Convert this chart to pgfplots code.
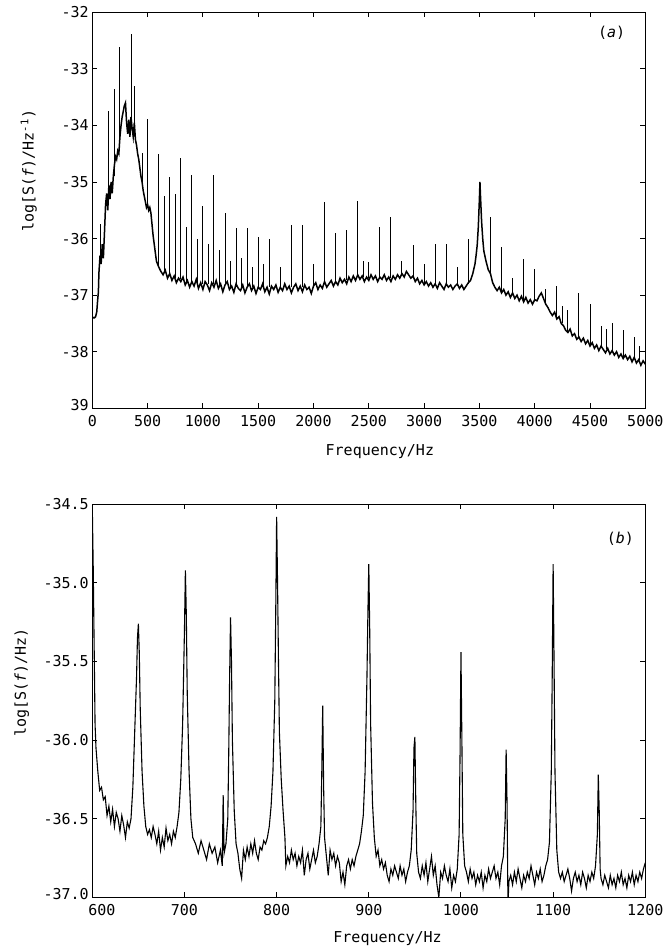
\documentclass[border=0pt]{standalone}
\usepackage{pgfplots}
\pgfplotsset{compat=1.18}
\usepackage{pgfplotstable}
\usepackage{fontspec}
\setmainfont{DejaVu Sans Mono}

% (a) broad-band spectrum, noisy floor
\pgfplotstableread{
f v
0 -37.38
10 -37.40
20 -37.40
30 -37.38
40 -37.30
50 -37.05
55 -36.95
60 -36.60
70 -36.30
80 -36.45
90 -36.10
100 -36.35
110 -35.90
120 -35.40
130 -35.20
140 -35.50
150 -35.05
160 -35.30
170 -35.00
180 -35.20
190 -34.90
200 -34.70
210 -34.55
220 -34.60
230 -34.45
240 -34.50
250 -34.20
260 -34.00
270 -33.85
280 -33.75
290 -33.65
300 -33.60
310 -33.95
320 -34.15
330 -33.90
340 -34.20
350 -33.85
360 -34.05
370 -34.20
380 -33.95
390 -34.25
400 -34.35
410 -34.50
420 -34.60
430 -34.75
440 -34.90
450 -35.00
460 -35.15
470 -35.25
480 -35.35
490 -35.45
500 -35.40
510 -35.50
520 -35.45
530 -35.55
540 -35.75
550 -35.95
560 -36.10
570 -36.25
580 -36.40
590 -36.45
600 -36.50
620 -36.58
640 -36.64
660 -36.56
680 -36.70
700 -36.62
720 -36.74
740 -36.66
760 -36.78
780 -36.70
800 -36.76
820 -36.68
840 -36.82
860 -36.74
880 -36.86
900 -36.76
920 -36.84
940 -36.72
960 -36.88
980 -36.78
1000 -36.90
1020 -36.76
1040 -36.82
1060 -36.92
1080 -36.78
1100 -36.86
1120 -36.74
1140 -36.88
1160 -36.80
1180 -36.94
1200 -36.82
1220 -36.76
1240 -36.90
1260 -36.84
1280 -36.95
1300 -36.80
1320 -36.88
1340 -36.92
1360 -36.82
1380 -36.96
1400 -36.86
1420 -36.80
1440 -36.92
1460 -36.84
1480 -36.97
1500 -36.86
1520 -36.90
1540 -36.80
1560 -36.94
1580 -36.86
1600 -36.98
1620 -36.84
1640 -36.90
1660 -36.82
1680 -36.95
1700 -36.86
1720 -36.92
1740 -36.80
1760 -36.90
1780 -36.84
1800 -36.96
1820 -36.86
1840 -36.80
1860 -36.92
1880 -36.84
1900 -36.94
1920 -36.82
1940 -36.90
1960 -36.86
1980 -36.97
2000 -36.84
2020 -36.78
2040 -36.90
2060 -36.82
2080 -36.88
2100 -36.76
2120 -36.86
2140 -36.80
2160 -36.74
2180 -36.84
2200 -36.76
2220 -36.82
2240 -36.70
2260 -36.78
2280 -36.72
2300 -36.80
2320 -36.68
2340 -36.76
2360 -36.66
2380 -36.74
2400 -36.64
2420 -36.72
2440 -36.66
2460 -36.76
2480 -36.68
2500 -36.74
2520 -36.64
2540 -36.72
2560 -36.66
2580 -36.76
2600 -36.68
2620 -36.72
2640 -36.64
2660 -36.74
2680 -36.68
2700 -36.76
2720 -36.66
2740 -36.72
2760 -36.64
2780 -36.70
2800 -36.62
2820 -36.68
2840 -36.58
2860 -36.64
2880 -36.70
2900 -36.66
2920 -36.76
2940 -36.70
2960 -36.80
2980 -36.74
3000 -36.82
3020 -36.76
3040 -36.84
3060 -36.78
3080 -36.86
3100 -36.80
3120 -36.88
3140 -36.78
3160 -36.84
3180 -36.90
3200 -36.80
3220 -36.86
3240 -36.82
3260 -36.90
3280 -36.84
3300 -36.80
3320 -36.88
3340 -36.82
3360 -36.90
3380 -36.84
3400 -36.78
3420 -36.74
3440 -36.62
3460 -36.45
3470 -36.30
3480 -36.12
3490 -35.80
3500 -35.30
3505 -35.00
3510 -35.25
3520 -35.70
3530 -36.00
3540 -36.22
3560 -36.40
3580 -36.55
3600 -36.62
3620 -36.78
3640 -36.86
3660 -36.92
3680 -36.86
3700 -36.96
3720 -36.90
3740 -37.00
3760 -36.94
3780 -37.04
3800 -36.96
3820 -37.06
3840 -37.00
3860 -37.10
3880 -37.02
3900 -37.12
3920 -37.04
3940 -37.14
3960 -37.08
3980 -37.16
4000 -37.08
4020 -37.10
4040 -37.02
4060 -36.96
4080 -37.06
4100 -37.16
4120 -37.22
4140 -37.30
4160 -37.36
4180 -37.30
4200 -37.42
4220 -37.38
4240 -37.50
4260 -37.54
4280 -37.62
4300 -37.66
4320 -37.60
4340 -37.72
4360 -37.68
4380 -37.78
4400 -37.74
4420 -37.82
4440 -37.76
4460 -37.86
4480 -37.80
4500 -37.90
4520 -37.84
4540 -37.94
4560 -37.88
4580 -37.98
4600 -37.90
4620 -37.96
4640 -38.02
4660 -37.94
4680 -38.04
4700 -37.98
4720 -38.06
4740 -38.00
4760 -38.10
4780 -38.04
4800 -38.12
4820 -38.06
4840 -38.14
4860 -38.08
4880 -38.18
4900 -38.10
4920 -38.20
4940 -38.14
4960 -38.24
4980 -38.16
5000 -38.22
}\specA

% (a) harmonic lines: foot and tip of each, nan breaks the line
\pgfplotstableread{
f v
75 -36.40
75 -35.75
75 nan
150 -35.30
150 -33.75
150 nan
200 -34.90
200 -33.35
200 nan
250 -34.30
250 -32.62
250 nan
350 -33.90
350 -32.38
350 nan
380 -34.00
380 -33.30
380 nan
450 -35.00
450 -34.48
450 nan
500 -35.45
500 -33.88
500 nan
600 -36.50
600 -34.50
600 nan
650 -36.60
650 -35.25
650 nan
700 -36.65
700 -34.92
700 nan
750 -36.70
750 -35.22
750 nan
800 -36.72
800 -34.57
800 nan
850 -36.75
850 -35.80
850 nan
900 -36.76
900 -34.87
900 nan
950 -36.80
950 -36.00
950 nan
1000 -36.80
1000 -35.42
1000 nan
1050 -36.80
1050 -36.10
1050 nan
1100 -36.80
1100 -34.88
1100 nan
1150 -36.82
1150 -36.20
1150 nan
1200 -36.82
1200 -35.55
1200 nan
1250 -36.85
1250 -36.40
1250 nan
1300 -36.85
1300 -35.82
1300 nan
1350 -36.85
1350 -36.35
1350 nan
1400 -36.85
1400 -35.82
1400 nan
1450 -36.85
1450 -36.50
1450 nan
1500 -36.85
1500 -35.98
1500 nan
1550 -36.85
1550 -36.45
1550 nan
1600 -36.85
1600 -36.00
1600 nan
1700 -36.85
1700 -36.50
1700 nan
1800 -36.85
1800 -35.76
1800 nan
1900 -36.85
1900 -35.76
1900 nan
2000 -36.85
2000 -36.45
2000 nan
2100 -36.80
2100 -35.35
2100 nan
2200 -36.78
2200 -35.90
2200 nan
2300 -36.74
2300 -35.85
2300 nan
2400 -36.68
2400 -35.33
2400 nan
2450 -36.68
2450 -36.40
2450 nan
2500 -36.70
2500 -36.42
2500 nan
2600 -36.68
2600 -35.80
2600 nan
2700 -36.70
2700 -35.62
2700 nan
2800 -36.66
2800 -36.40
2800 nan
2900 -36.70
2900 -36.12
2900 nan
3000 -36.80
3000 -36.45
3000 nan
3100 -36.82
3100 -36.10
3100 nan
3200 -36.84
3200 -36.10
3200 nan
3300 -36.84
3300 -36.50
3300 nan
3400 -36.80
3400 -36.00
3400 nan
3600 -36.62
3600 -35.62
3600 nan
3700 -36.95
3700 -36.15
3700 nan
3800 -37.00
3800 -36.70
3800 nan
3900 -37.10
3900 -36.36
3900 nan
4000 -37.10
4000 -36.53
4000 nan
4100 -37.15
4100 -36.90
4100 nan
4200 -37.42
4200 -36.83
4200 nan
4250 -37.50
4250 -37.20
4250 nan
4300 -37.66
4300 -37.27
4300 nan
4400 -37.76
4400 -36.97
4400 nan
4500 -37.90
4500 -37.15
4500 nan
4600 -37.92
4600 -37.55
4600 nan
4650 -37.95
4650 -37.60
4650 nan
4700 -38.00
4700 -37.49
4700 nan
4800 -38.10
4800 -37.61
4800 nan
4900 -38.12
4900 -37.74
4900 nan
4950 -38.15
4950 -37.90
4950 nan
}\linesA

% (b) 600-1200 Hz detail
\pgfplotstableread{
f v
600 -34.52
601 -34.90
602 -35.40
603 -35.90
604 -36.05
606 -36.20
608 -36.32
610 -36.30
612 -36.38
614 -36.36
616 -36.48
618 -36.42
620 -36.52
622 -36.44
624 -36.55
626 -36.46
628 -36.50
630 -36.58
632 -36.48
634 -36.54
636 -36.62
638 -36.52
640 -36.56
642 -36.50
644 -36.30
646 -35.95
648 -35.60
649 -35.35
650 -35.26
651 -35.45
652 -35.80
654 -36.20
656 -36.42
658 -36.55
660 -36.60
662 -36.57
664 -36.62
666 -36.55
668 -36.60
670 -36.66
672 -36.58
674 -36.70
676 -36.62
678 -36.68
680 -36.56
682 -36.64
684 -36.60
686 -36.66
688 -36.58
690 -36.62
692 -36.55
694 -36.46
696 -36.25
698 -35.90
700 -35.30
701 -34.92
702 -35.20
703 -35.70
705 -36.20
707 -36.50
709 -36.62
712 -36.66
715 -36.72
718 -36.64
721 -36.70
724 -36.76
727 -36.66
730 -36.72
733 -36.68
736 -36.78
739 -36.70
741 -36.80
742 -36.35
743 -36.72
745 -36.66
747 -36.50
748 -36.10
749 -35.60
750 -35.22
751 -35.50
752 -36.00
754 -36.45
756 -36.66
758 -36.72
760 -36.82
762 -36.88
764 -36.70
766 -36.76
768 -36.68
770 -36.74
772 -36.66
774 -36.72
776 -36.64
778 -36.72
780 -36.76
782 -36.68
784 -36.70
786 -36.64
788 -36.66
790 -36.62
792 -36.55
794 -36.42
796 -36.20
798 -35.75
799 -35.20
800 -34.58
801 -35.00
802 -35.50
803 -35.95
805 -36.25
807 -36.45
809 -36.62
810 -36.80
812 -36.74
814 -36.78
816 -36.70
818 -36.76
820 -36.72
822 -36.80
824 -36.74
826 -36.78
828 -36.70
830 -36.86
832 -36.76
834 -36.72
836 -36.82
838 -36.76
840 -36.70
842 -36.78
844 -36.74
846 -36.66
848 -36.55
849 -36.20
850 -35.78
851 -36.30
852 -36.62
854 -36.74
856 -36.86
858 -36.70
860 -36.76
862 -36.72
864 -36.80
866 -36.74
868 -36.78
870 -36.90
872 -36.84
874 -36.92
876 -36.80
878 -36.76
880 -36.82
882 -36.76
884 -36.80
886 -36.74
888 -36.70
890 -36.66
892 -36.58
894 -36.48
896 -36.20
898 -35.60
899 -35.20
900 -34.88
901 -35.30
902 -35.90
904 -36.40
906 -36.62
908 -36.74
910 -36.70
912 -36.80
914 -36.76
916 -36.82
918 -36.78
920 -36.86
922 -36.90
924 -36.82
926 -36.86
928 -36.80
930 -36.84
932 -36.88
934 -36.80
936 -36.86
938 -36.82
940 -36.90
942 -36.84
944 -36.80
946 -36.70
948 -36.45
949 -36.05
950 -35.98
951 -36.40
952 -36.72
954 -36.84
956 -36.88
958 -36.80
960 -36.86
962 -36.78
964 -36.90
966 -36.82
968 -36.74
970 -36.86
972 -36.80
974 -36.92
976 -37.00
978 -36.84
980 -36.88
982 -36.80
984 -36.86
986 -36.90
988 -36.82
990 -36.94
992 -36.86
994 -36.90
996 -36.82
998 -36.60
999 -36.10
1000 -35.44
1001 -36.00
1002 -36.60
1004 -36.80
1006 -36.84
1008 -36.90
1010 -36.82
1012 -36.88
1014 -36.84
1016 -36.92
1018 -36.86
1020 -36.90
1022 -36.84
1024 -36.94
1026 -36.86
1028 -36.90
1030 -36.82
1032 -36.88
1034 -36.84
1036 -36.80
1038 -36.88
1040 -36.84
1042 -36.92
1044 -36.80
1046 -36.74
1048 -36.50
1049 -36.06
1050 -36.40
1051 -37.05
1052 -36.90
1054 -36.86
1056 -36.92
1058 -36.84
1060 -36.90
1062 -36.82
1064 -36.88
1066 -36.94
1068 -36.86
1070 -36.90
1072 -36.84
1074 -36.88
1076 -36.80
1078 -36.86
1080 -36.92
1082 -36.84
1084 -36.88
1086 -36.82
1088 -36.90
1090 -36.86
1092 -36.80
1094 -36.76
1096 -36.65
1098 -36.20
1099 -35.60
1100 -34.88
1101 -35.50
1102 -36.20
1104 -36.70
1106 -36.84
1108 -36.88
1110 -36.84
1112 -36.90
1114 -36.86
1116 -36.82
1118 -36.88
1120 -36.96
1122 -36.88
1124 -36.84
1126 -36.90
1128 -36.86
1130 -36.92
1132 -36.84
1134 -36.88
1136 -36.94
1138 -36.86
1140 -36.90
1142 -36.84
1144 -36.88
1146 -36.80
1148 -36.60
1149 -36.22
1150 -36.45
1151 -36.82
1152 -36.88
1154 -36.92
1156 -36.86
1158 -36.90
1160 -36.94
1162 -36.86
1164 -36.92
1166 -36.88
1168 -36.94
1170 -36.86
1172 -36.90
1174 -36.84
1176 -36.92
1178 -36.88
1180 -36.94
1182 -36.86
1184 -36.90
1186 -36.84
1188 -36.92
1190 -36.86
1192 -36.90
1194 -36.84
1196 -36.88
1198 -36.82
1200 -36.78
}\specB

\pgfplotsset{
  spec/.style={
    scale only axis,
    width=553bp,
    tick align=inside,
    tick pos=both,
    major tick length=5bp,
    axis line style={line width=1.2bp},
    every tick/.style={line width=1bp, black},
    tick label style={font=\fontsize{15bp}{17bp}\selectfont},
    xticklabel style={yshift=-4bp},
    label style={font=\fontsize{15bp}{17bp}\selectfont},
    /pgf/number format/assume math mode=true,
    unbounded coords=jump,
  },
}

\begin{document}
\begin{tikzpicture}
\useasboundingbox (0,0) rectangle (663bp,951bp);

\begin{axis}[spec,
  at={(92.3bp,542.7bp)}, anchor=south west,
  height=396bp,
  xmin=0, xmax=5000, ymin=-39, ymax=-32,
  xtick={0,500,...,5000},
  xticklabels={0,500,1000,1500,2000,2500,3000,3500,4000,4500,5000},
  ytick={-39,-38,...,-32},
  yticklabels={\raisebox{6bp}{39},-38,-37,-36,-35,-34,-33,-32},
  xlabel={Frequency/Hz},
  xlabel style={at={(axis description cs:0.52,-0.110)}, anchor=center},
  ylabel={log[S(\textit{f})/Hz\textsuperscript{-1})},
  ylabel style={at={(axis description cs:-0.094,0.60)}, anchor=south},
]
\addplot[black, line width=1.5bp] table[x=f, y=v] {\specA};
\addplot[black, line width=1bp] table[x=f, y=v] {\linesA};
\node[font=\fontsize{15bp}{17bp}\selectfont] at (rel axis cs:0.939,0.948) {(\textit{a})};
\end{axis}

\begin{axis}[spec,
  at={(92.3bp,53.7bp)}, anchor=south west,
  height=393bp,
  xmin=600, xmax=1200, ymin=-37, ymax=-34.5,
  xtick={600,700,...,1200},
  xticklabels={\hspace*{19bp}600,700,800,900,1000,1100,1200},
  ytick={-37,-36.5,...,-34.5},
  yticklabels={\raisebox{6bp}{-37.0},-36.5,-36.0,-35.5,-35.0,-34.5},
  xlabel={Frequency/Hz},
  xlabel style={at={(axis description cs:0.534,-0.104)}, anchor=center},
  ylabel={log[S(\textit{f})/Hz)},
  ylabel style={at={(axis description cs:-0.108,0.547)}, anchor=south},
]
\addplot[black, line width=1.1bp] table[x=f, y=v] {\specB};
\node[font=\fontsize{15bp}{17bp}\selectfont] at (rel axis cs:0.955,0.913) {(\textit{b})};
\end{axis}
\end{tikzpicture}
\end{document}
